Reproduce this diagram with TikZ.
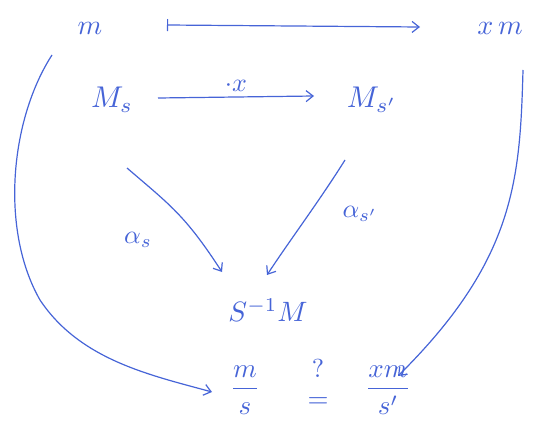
\documentclass[tikz,border=0pt]{standalone}
\usepackage{amsmath}
\usetikzlibrary{arrows.meta}
\definecolor{ink}{RGB}{70,100,215}
\newcommand{\sized}[2]{\scalebox{#1}{#2}}
\begin{document}
\begin{tikzpicture}[x=1pt,y=-1pt,
  lbl/.style={text=ink,inner sep=1pt},
  arr/.style={draw=ink,line width=1.2pt,-{Straight Barb[length=7pt,width=11pt]}},
  maps/.style={draw=ink,line width=1.2pt,{Bar[width=12pt]}-{Straight Barb[length=7pt,width=11pt]}}]
\useasboundingbox (0,0) rectangle (536,436);
\node[lbl] (m) at (90,28) {\sized{2.8}{$m$}};
\node[lbl] (xm) at (500,28) {\sized{2.8}{$x\,m$}};
\node[lbl] (Ms) at (112,100) {\sized{3}{$M_s$}};
\node[lbl] (Msp) at (372,100) {\sized{3}{$M_{s'}$}};
\node[lbl] (SM) at (268,310) {\sized{2.8}{$S^{-1}M$}};
\node[lbl] (ms) at (245,390) {\sized{2.7}{$\dfrac{m}{s}$}};
\node[lbl,inner sep=0pt] (eq) at (318,403) {\sized{2.7}{$=$}};
\node[lbl,inner sep=0pt] (qm) at (318,368) {\sized{2.6}{?}};
\node[lbl] (xms) at (388,390) {\sized{2.7}{$\dfrac{xm}{s'}$}};
\coordinate (a1) at (167,25);
\coordinate (a2) at (420,27);
\draw[maps] (a1) -- (a2);
\coordinate (b1) at (158,98);
\coordinate (b2) at (314,96);
\draw[arr] (b1) -- node[lbl,above=4pt] {\sized{2.6}{$\cdot x$}} (b2);
\coordinate (c1) at (127,168);
\coordinate (c2) at (222,272);
\draw[arr] (c1) .. controls (170,205) and (185,215) .. (c2);
\node[lbl] (as) at (138,240) {\sized{2.6}{$\alpha_s$}};
\coordinate (d1) at (345,160);
\coordinate (d2) at (267,275);
\draw[arr] (d1) .. controls (320,200) and (290,240) .. (d2);
\node[lbl] (asp) at (360,214) {\sized{2.6}{$\alpha_{s'}$}};
\coordinate (e1) at (52,55);
\coordinate (e2) at (212,392);
\draw[arr] (e1) .. controls (10,120) and (0,230) .. (40,300) .. controls (80,360) and (150,375) .. (e2);
\coordinate (f1) at (523,70);
\coordinate (f2) at (398,376);
\draw[arr] (f1) .. controls (520,180) and (515,260) .. (f2);
\end{tikzpicture}
\end{document}
